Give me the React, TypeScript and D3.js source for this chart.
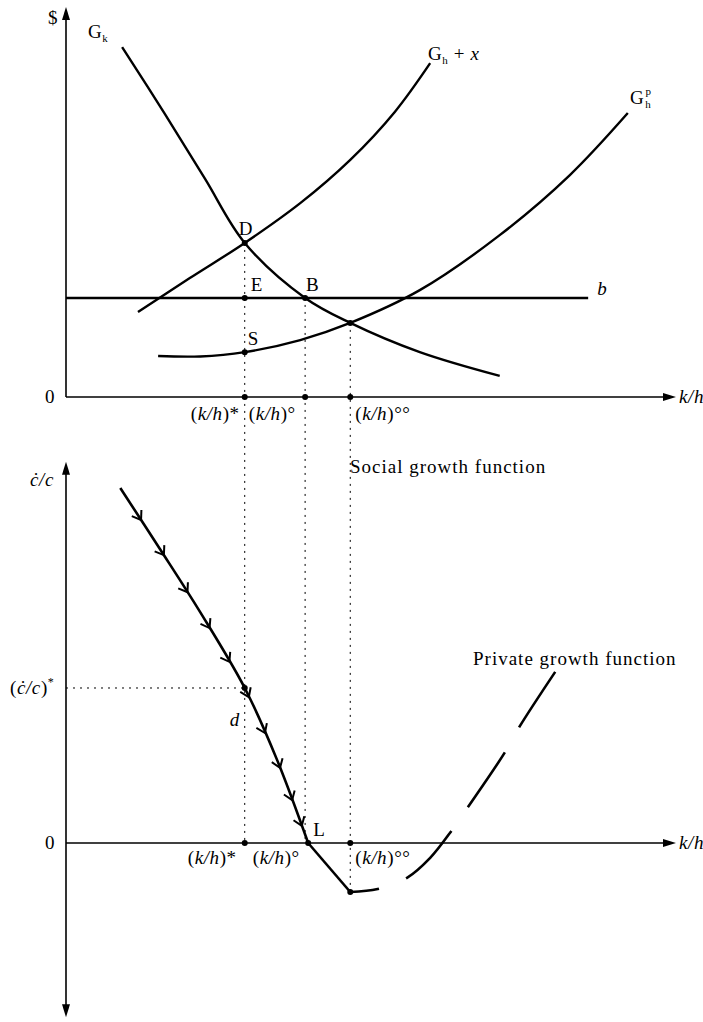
import React from 'react';
import * as d3 from 'd3';

const W = 703;
const H = 1022;

// marked k/h values on the horizontal axes
const kStar = 29.3;
const kDeg = 39.2;
const kDeg2 = 46.6;
const kL = 39.7;

const bLevel = 25.4;
const dLevel = 39.5;
const sLevel = 11.5;
const crossLevel = 19.0;
const bEnd = 85.6;
const ccStar = 42.7;
const kinkLevel = -13.5;

// top panel curves  [k/h, $]
const gk: [number, number][] = [[9.2, 89.7], [16.2, 72.6], [22.8, 55.9], [29.3, 39.5], [39.2, 25.4], [46.6, 19.0], [58.0, 11.5], [71.1, 5.4]];
const ghx: [number, number][] = [[11.8, 21.8], [20.3, 30.5], [29.3, 39.5], [38.4, 49.7], [46.6, 60.8], [53.9, 73.1], [59.7, 85.6]];
const ghp: [number, number][] = [[15.1, 10.5], [22.0, 10.4], [29.3, 11.5], [38.4, 14.6], [46.6, 19.0], [58.0, 27.4], [71.1, 41.5], [82.6, 56.9], [92.1, 72.8]];

// bottom panel  [k/h, c./c]
const social: [number, number][] = [[8.9, 97.8], [15.4, 81.0], [22.0, 63.6], [29.3, 42.7], [34.6, 22.9], [39.7, 0]];
const socialTail: [number, number][] = [[39.7, 0], [46.6, -13.5]];
const priv: [number, number][] = [[46.6, -13.5], [51.1, -12.7], [55.9, -9.6], [59.7, -4.1], [63.3, 3.6], [65.9, 9.9], [72.0, 25.1], [74.4, 32.2], [80.3, 47.4]];
const arrowLevels = [89.0, 79.3, 69.1, 59.2, 49.9, 40.2, 30.3, 20.7, 11.8, 4.7];

const x = d3.scaleLinear().domain([0, 100]).range([66, 676]);
const yT = d3.scaleLinear().domain([0, 100]).range([397, 7]);
const yB = d3.scaleLinear().domain([0, 100]).range([843, 480]);

const FONT = '"Liberation Serif", "DejaVu Serif", serif';

function arrowHead(tx: number, ty: number, dir: 'up' | 'down' | 'right') {
  const l = 13, w = 4;
  let pts: number[][];
  if (dir === 'up') pts = [[tx, ty], [tx - w, ty + l], [tx + w, ty + l]];
  else if (dir === 'down') pts = [[tx, ty], [tx - w, ty - l], [tx + w, ty - l]];
  else pts = [[tx, ty], [tx - l, ty - w], [tx - l, ty + w]];
  return <polygon points={pts.map(p => p.join(',')).join(' ')} fill="#000" />;
}

function chevrons() {
  const px = social.map(d => [x(d[0]), yB(d[1])]);
  const out: JSX.Element[] = [];
  arrowLevels.forEach((lv, i) => {
    const py = yB(lv);
    for (let j = 0; j < px.length - 1; j++) {
      const [x0, y0] = px[j], [x1, y1] = px[j + 1];
      if (py >= y0 && py <= y1) {
        const t = (py - y0) / (y1 - y0);
        const cx = x0 + t * (x1 - x0);
        const len = Math.hypot(x1 - x0, y1 - y0);
        const ux = (x1 - x0) / len, uy = (y1 - y0) / len;
        const a = (35 * Math.PI) / 180, L = 10;
        const r = (ang: number) => [
          cx - L * (ux * Math.cos(ang) - uy * Math.sin(ang)),
          py - L * (ux * Math.sin(ang) + uy * Math.cos(ang)),
        ];
        const p1 = r(a), p2 = r(-a);
        out.push(
          <path key={i} d={`M${p1[0]},${p1[1]}L${cx},${py}L${p2[0]},${p2[1]}`} fill="none" stroke="#000" strokeWidth={2} />
        );
        break;
      }
    }
  });
  return out;
}

export default function App() {
  const curve = d3.line<[number, number]>().x(d => x(d[0])).y(d => yT(d[1])).curve(d3.curveCatmullRom.alpha(0.5));
  const curveB = d3.line<[number, number]>().x(d => x(d[0])).y(d => yB(d[1])).curve(d3.curveCatmullRom.alpha(0.5));
  const lineB = d3.line<[number, number]>().x(d => x(d[0])).y(d => yB(d[1]));

  const dot = (cx: number, cy: number, k: string) => <circle key={k} cx={cx} cy={cy} r={3} fill="#000" />;
  const dotted = { stroke: '#000', strokeWidth: 1, strokeDasharray: '2 5', fill: 'none' } as const;
  const txt = { style: { fontFamily: FONT }, fontSize: 19, fill: '#000', letterSpacing: 0.6 } as const;

  const kh = (sup: string, props: any) => (
    <text {...txt} {...props}>(<tspan fontStyle="italic">k/h</tspan>){sup}</text>
  );

  return (
    <svg width={W} height={H} style={{ position: 'absolute', left: 0, top: 0, background: '#fff' }}>
      {/* ---------- top panel ---------- */}
      <line x1={x(0)} y1={yT(0)} x2={x(0)} y2={yT(100) + 10} stroke="#000" strokeWidth={1.6} />
      {arrowHead(x(0), yT(100), 'up')}
      <line x1={x(0)} y1={yT(0)} x2={x(100) - 10} y2={yT(0)} stroke="#000" strokeWidth={1.6} />
      {arrowHead(x(100), yT(0), 'right')}

      <line x1={x(kStar)} y1={yT(dLevel)} x2={x(kStar)} y2={yB(0)} {...dotted} />
      <line x1={x(kDeg)} y1={yT(bLevel)} x2={x(kDeg)} y2={yB(0)} {...dotted} />
      <line x1={x(kDeg2)} y1={yT(crossLevel)} x2={x(kDeg2)} y2={yB(kinkLevel)} {...dotted} />

      <line x1={x(0)} y1={yT(bLevel)} x2={x(bEnd)} y2={yT(bLevel)} stroke="#000" strokeWidth={2.4} />
      <path d={curve(gk) || ''} fill="none" stroke="#000" strokeWidth={2.4} />
      <path d={curve(ghx) || ''} fill="none" stroke="#000" strokeWidth={2.4} />
      <path d={curve(ghp) || ''} fill="none" stroke="#000" strokeWidth={2.4} />

      {dot(x(kStar), yT(dLevel), 'D')}
      {dot(x(kStar), yT(bLevel), 'E')}
      {dot(x(kDeg), yT(bLevel), 'B')}
      {dot(x(kStar), yT(sLevel), 'S')}
      {dot(x(kDeg2), yT(crossLevel), 'X')}
      {dot(x(kStar), yT(0), 't1')}
      {dot(x(kDeg), yT(0), 't2')}
      {dot(x(kDeg2), yT(0), 't3')}

      <text {...txt} x={58} y={24} textAnchor="end">$</text>
      <text {...txt} x={45} y={403}>0</text>
      <text {...txt} x={679} y={403} fontStyle="italic">k/h</text>

      <text {...txt} x={88} y={38}>G<tspan fontSize={11} dy={4}>k</tspan></text>
      <text {...txt} x={428} y={60}>G<tspan fontSize={11} dy={4}>h</tspan><tspan dy={-4}> + </tspan><tspan fontStyle="italic">x</tspan></text>
      <text {...txt} x={630} y={104}>G<tspan fontSize={11} dx={1} dy={4}>h</tspan><tspan fontSize={11} dx={-6} dy={-13}>p</tspan></text>
      <text {...txt} x={x(bEnd) + 9} y={yT(bLevel) - 3} fontStyle="italic">b</text>

      <text {...txt} x={x(kStar) - 6} y={yT(dLevel) - 8}>D</text>
      <text {...txt} x={x(kStar) + 6} y={yT(bLevel) - 7}>E</text>
      <text {...txt} x={x(kDeg) + 1} y={yT(bLevel) - 7}>B</text>
      <text {...txt} x={x(kStar) + 3} y={yT(sLevel) - 7}>S</text>

      {kh('*', { x: x(kStar) - 5, y: 420, textAnchor: 'end' })}
      {kh('°', { x: x(kStar) + 4, y: 420 })}
      {kh('°°', { x: x(kDeg2) + 5, y: 420 })}

      {/* ---------- bottom panel ---------- */}
      <line x1={x(0)} y1={yB(-48) - 10} x2={x(0)} y2={yB(105) + 10} stroke="#000" strokeWidth={1.6} />
      {arrowHead(x(0), yB(105), 'up')}
      {arrowHead(x(0), yB(-48), 'down')}
      <line x1={x(0)} y1={yB(0)} x2={x(100) - 10} y2={yB(0)} stroke="#000" strokeWidth={1.6} />
      {arrowHead(x(100), yB(0), 'right')}

      <line x1={x(0)} y1={yB(ccStar)} x2={x(kStar)} y2={yB(ccStar)} {...dotted} />

      <path d={curveB(social) || ''} fill="none" stroke="#000" strokeWidth={2.6} />
      <path d={lineB(socialTail) || ''} fill="none" stroke="#000" strokeWidth={2.6} />
      {chevrons()}
      <path d={curveB(priv) || ''} fill="none" stroke="#000" strokeWidth={2.6} strokeDasharray="66 29" strokeDashoffset={37} />

      {dot(x(kStar), yB(0), 'b1')}
      {dot(x(kL), yB(0), 'b2')}
      {dot(x(kDeg2), yB(0), 'b3')}
      {dot(x(kStar), yB(ccStar), 'bd')}
      {dot(x(kDeg2), yB(kinkLevel), 'bk')}

      <text {...txt} x={45} y={849}>0</text>
      <text {...txt} x={679} y={849} fontStyle="italic">k/h</text>
      <text {...txt} x={30} y={486} fontStyle="italic">ċ/c</text>
      <text {...txt} x={10} y={yB(ccStar) + 6}>(<tspan fontStyle="italic">ċ/c</tspan>)<tspan fontSize={12} dy={-8}>*</tspan></text>
      <text {...txt} x={x(kStar) - 15} y={yB(ccStar) + 38} fontStyle="italic">d</text>
      <text {...txt} x={x(kL) + 5} y={yB(0) - 7}>L</text>

      {kh('*', { x: x(kStar) - 8, y: 864, textAnchor: 'end' })}
      {kh('°', { x: x(kStar) + 8, y: 864 })}
      {kh('°°', { x: x(kDeg2) + 5, y: 864 })}

      <text {...txt} x={350} y={473} letterSpacing={1}>Social growth function</text>
      <text {...txt} x={473} y={665} letterSpacing={1}>Private growth function</text>
    </svg>
  );
}
